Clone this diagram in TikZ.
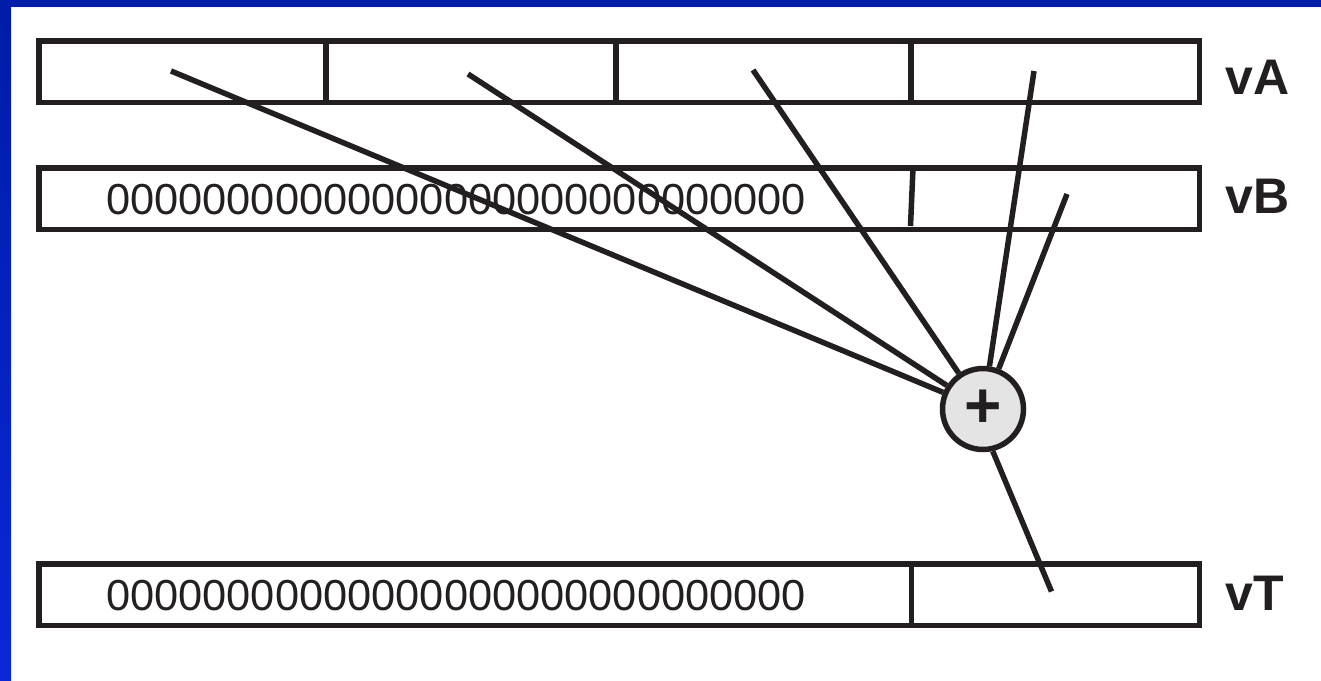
\documentclass[tikz,border=0pt]{standalone}
\usepackage{fontspec}
\setmainfont{Liberation Sans}
\definecolor{ink}{HTML}{231F20}
\definecolor{discfill}{HTML}{E4E4E4}
\definecolor{frametop}{HTML}{001CA8}
\definecolor{framelow}{HTML}{0828D8}
\begin{document}
\begin{tikzpicture}[x=1pt,y=-1pt,
  reg/.style={draw=ink,line width=5.5pt,fill=white,rectangle,inner sep=0pt,
              minimum width=1160.5pt,minimum height=61.5pt},
  wire/.style={draw=ink,line width=5.5pt},
  zeros/.style={anchor=base west,inner sep=0pt,font=\fontsize{43.4}{50}\selectfont,text=ink},
  tag/.style={anchor=base west,inner sep=0pt,font=\fontsize{50}{60}\selectfont\bfseries,text=ink},
  disc/.style={circle,draw=ink,line width=5.5pt,fill=discfill,minimum size=81pt,
               inner sep=0pt,font=\fontsize{64}{64}\selectfont\bfseries,text=ink},
]
% page and blue frame
\useasboundingbox (0,0) rectangle (1321,680);
\fill[white] (0,0) rectangle (1321,680);
\fill[frametop] (0,0) rectangle (1321,7);
\shade[top color=frametop,bottom color=framelow] (0,0) rectangle (11,680);

% registers
\node[reg] (va) at (619.25,71.75) {};
\node[reg] (vb) at (619.25,198.75) {};
\node[reg] (vt) at (619.25,594.75) {};

% lane dividers
\draw[wire] (326,41) -- (326,102.5);
\draw[wire] (616,41) -- (616,102.5);
\draw[wire] (911,41) -- (911,102.5);
\draw[wire] (913,168) -- (910.5,226);
\draw[wire] (911.5,564) -- (911.5,625.5);

% contents and register names
\node[zeros] (zb) at (106,214) {00000000000000000000000000000};
\node[zeros] (zt) at (106,610) {00000000000000000000000000000};
\node[tag] (la) at (1225.5,94) {vA};
\node[tag] (lb) at (1225.5,213) {vB};
\node[tag] (lt) at (1225.5,610) {vT};

% reduction adder
\node[disc] (sum) at (983,409) {+};

\coordinate (a1) at (171,71);
\coordinate (a2) at (468,74);
\coordinate (a3) at (753,70);
\coordinate (a4) at (1034,71);
\coordinate (b4) at (1067,194);
\coordinate (t4) at (1051.5,591.5);

\draw[wire] (a1) -- (sum);
\draw[wire] (a2) -- (sum);
\draw[wire] (a3) -- (sum);
\draw[wire] (a4) -- (sum);
\draw[wire] (b4) -- (sum);
\draw[wire] (sum.-77) -- (t4);
\end{tikzpicture}
\end{document}
